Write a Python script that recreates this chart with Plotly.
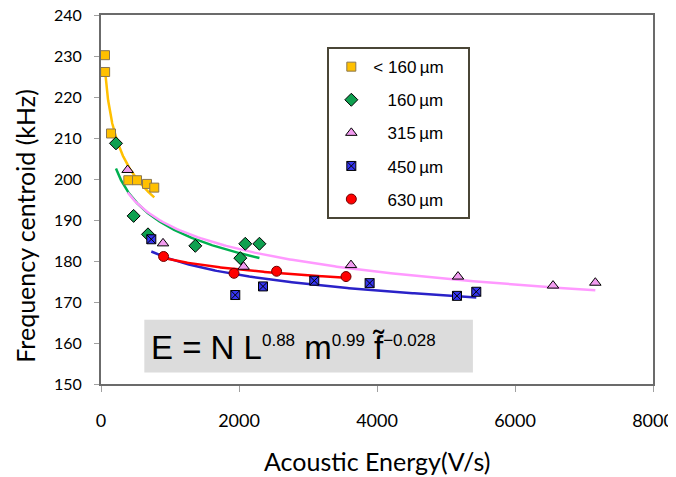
import numpy as np
import plotly.graph_objects as go

# ---- data ----
series_names = ["< 160 µm", "160 µm", "315 µm", "450 µm", "630 µm"]

x_lt160 = [58, 60, 145, 396, 522, 667, 772]
y_lt160 = [230.2, 226.1, 211.1, 199.7, 199.7, 198.8, 197.9]

x_160 = [217, 473, 681, 1367, 2019, 2091, 2296]
y_160 = [208.7, 191.0, 186.5, 183.7, 180.7, 184.2, 184.2]

x_315 = [386, 899, 2067, 3623, 5174, 6551, 7164]
y_315 = [202.2, 184.3, 178.6, 179.0, 176.2, 174.0, 174.7]

x_450 = [729, 1946, 2348, 3091, 3893, 5159, 5439]
y_450 = [185.3, 171.7, 173.8, 175.2, 174.6, 171.5, 172.5]

x_630 = [907, 1928, 2545, 3551]
y_630 = [181.1, 177.0, 177.5, 176.2]

x_ticks = [0, 2000, 4000, 6000, 8000]
y_ticks = [150, 160, 170, 180, 190, 200, 210, 220, 230, 240]

x_title = "Acoustic Energy(V/s)"
y_title = "Frequency centroid (kHz)"

# ---- styles ----
NB = "\u00a0"
TAIL = NB * 4
legend_labels = ["< 160\u2009µm" + TAIL, NB*3 + "160\u2009µm" + TAIL,
                 NB*3 + "315\u2009µm" + TAIL, NB*3 + "450\u2009µm" + TAIL,
                 NB*3 + "630\u2009µm" + TAIL]
styles = [
    dict(symbol="square", color="#FFC000", line="#8a7650", size=9, trend="#FFC000"),
    dict(symbol="diamond", color="#0FA050", line="#000000", size=10, trend="#00B050"),
    dict(symbol="triangle-up", color="#F29CF0", line="#000000", size=10, trend="#FF99FF"),
    dict(symbol="square-x", color="#3535F0", line="#000000", size=9, trend="#2A22C8"),
    dict(symbol="circle", color="#FF0000", line="#700000", size=10, trend="#FF0000"),
]
xs = [x_lt160, x_160, x_315, x_450, x_630]
ys = [y_lt160, y_160, y_315, y_450, y_630]

fig = go.Figure()

# power-law trend lines (least squares in log-log space, like a spreadsheet trendline)
for x, y, st in zip(xs, ys, styles):
    xa, ya = np.array(x, float), np.array(y, float)
    b, lna = np.polyfit(np.log(xa), np.log(ya), 1)
    xf = np.linspace(xa.min(), xa.max(), 200)
    yf = np.exp(lna) * xf ** b
    fig.add_trace(go.Scatter(x=xf, y=yf, mode="lines", showlegend=False,
                             line=dict(color=st["trend"], width=2.5),
                             hoverinfo="skip"))

for i, (x, y, st) in enumerate(zip(xs, ys, styles)):
    fig.add_trace(go.Scatter(
        x=x, y=y, mode="markers", name=legend_labels[i], legendgroup=str(i),
        marker=dict(symbol=st["symbol"], color=st["color"], size=st["size"],
                    line=dict(color=st["line"], width=1))))

# equation box
fig.add_shape(type="rect", xref="x", yref="y", x0=628, x1=5390, y0=152.8, y1=165.7,
              fillcolor="#dcdcdc", line=dict(width=0), layer="below")

sup = lambda t: "<sup><span style='font-size:17px'>" + t + "</span></sup>"
eq = "E = N L" + sup("0.88") + " m" + sup("0.99") + " f\u0303" + sup("\u22120.028")
fig.add_annotation(xref="x", yref="y", x=690, y=158.8, xanchor="left", yanchor="middle",
                   text=eq, showarrow=False,
                   font=dict(family="Liberation Sans, Arial", size=33, color="#000000"))

# axis titles
fig.add_annotation(xref="paper", yref="paper", x=0.5, y=-0.21, xanchor="center",
                   yanchor="middle", text=x_title, showarrow=False,
                   font=dict(family="Lato", size=25, color="#000000"))
fig.add_annotation(xref="paper", yref="paper", x=-0.137, y=0.43, xanchor="center",
                   yanchor="middle", text=y_title, textangle=-90, showarrow=False,
                   font=dict(family="Lato", size=25, color="#000000"))

# the page places the figure 8 px in from the top-left corner; margins compensate
fig.update_layout(
    width=676, height=477,
    margin=dict(l=93, r=31, t=7, b=101, autoexpand=False),
    plot_bgcolor="white", paper_bgcolor="white",
    showlegend=True,
    legend=dict(x=0.41, y=0.913, xanchor="left", yanchor="top",
                bgcolor="white", bordercolor="#4a4636", borderwidth=2,
                font=dict(family="Liberation Sans, Arial", size=17, color="#000000"),
                tracegroupgap=8, itemwidth=34),
)
fig.update_xaxes(range=[0, 8000], tickvals=x_ticks, showgrid=False, zeroline=False,
                 showline=True, linecolor="#6b6b6b", linewidth=2, mirror=True,
                 ticks="outside", ticklen=6, tickcolor="#a0a0a0", tickwidth=1,
                 ticklabelstandoff=13, automargin=False, ticklabeloverflow="allow",
                 tickfont=dict(family="Lato", size=18, color="#000000"))
fig.update_yaxes(range=[150, 240], tickvals=y_ticks, showgrid=False, zeroline=False,
                 showline=True, linecolor="#6b6b6b", linewidth=2, mirror=True,
                 ticks="outside", ticklen=5, tickcolor="#a0a0a0", tickwidth=1,
                 ticklabelstandoff=9, automargin=False, ticklabeloverflow="allow",
                 tickfont=dict(family="Lato", size=16, color="#000000"))

fig.write_html("out.html")
